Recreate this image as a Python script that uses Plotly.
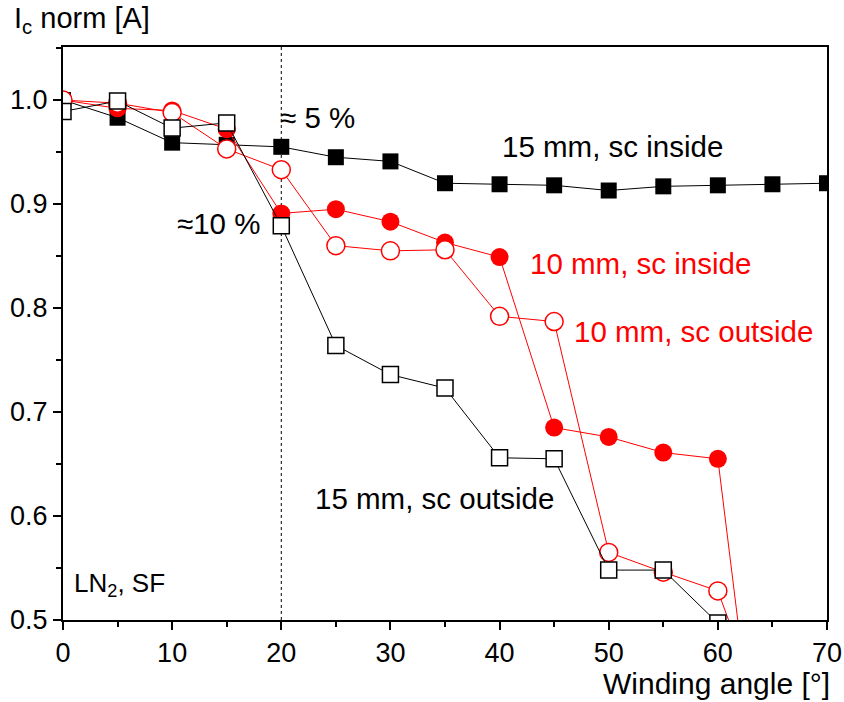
import plotly.graph_objects as go

# Winding angle [deg]
angle = [0, 5, 10, 15, 20, 25, 30, 35, 40, 45, 50, 55, 60, 65, 70]

# Normalised critical current for the four sample configurations
ic_15_inside = [1.0, 0.983, 0.959, 0.957, 0.955, 0.945, 0.941, 0.920, 0.919, 0.918, 0.913, 0.917, 0.918, 0.919, 0.920]
angle_15_out = [0, 5, 10, 15, 20, 25, 30, 35, 40, 45, 50, 55, 60]
ic_15_outside = [0.989, 0.999, 0.973, 0.978, 0.879, 0.764, 0.736, 0.723, 0.656, 0.655, 0.548, 0.548, 0.497]
angle_10 = [0, 5, 10, 15, 20, 25, 30, 35, 40, 45, 50, 55, 60, 65]
ic_10_inside = [1.0, 0.992, 0.990, 0.972, 0.891, 0.895, 0.883, 0.863, 0.849, 0.685, 0.676, 0.661, 0.655, 0.23]
ic_10_outside = [1.0, 0.997, 0.988, 0.953, 0.933, 0.860, 0.855, 0.856, 0.792, 0.787, 0.565, 0.546, 0.528, 0.385]

FONT = "Arial, Liberation Sans, sans-serif"
RED = "#ff0000"

fig = go.Figure()

fig.add_trace(go.Scatter(
    x=angle, y=ic_15_inside, mode="lines+markers",
    line=dict(color="black", width=1),
    marker=dict(symbol="square", size=16, color="black"),
))
fig.add_trace(go.Scatter(
    x=angle_10, y=ic_10_inside, mode="lines+markers",
    line=dict(color=RED, width=1),
    marker=dict(symbol="circle", size=18, color=RED),
))
fig.add_trace(go.Scatter(
    x=angle_10, y=ic_10_outside, mode="lines+markers",
    line=dict(color=RED, width=1),
    marker=dict(symbol="circle", size=18, color="white", line=dict(color=RED, width=1.5)),
))
fig.add_trace(go.Scatter(
    x=angle_15_out, y=ic_15_outside, mode="lines+markers",
    line=dict(color="black", width=1),
    marker=dict(symbol="square", size=16, color="white", line=dict(color="black", width=1.5)),
))

# dotted guide at 20 deg
fig.add_shape(type="line", xref="x", yref="paper", x0=20, x1=20, y0=0, y1=1,
              line=dict(color="black", width=1, dash="dot"), layer="below")

def note(text, x, y, color="black", anchor="left", size=29.5):
    fig.add_annotation(text=text, x=x, y=y, xref="x", yref="y",
                       showarrow=False, xanchor=anchor, yanchor="middle",
                       font=dict(family=FONT, size=size, color=color))

note("≈ 5 %", 19.7, 0.983)
note("≈10 %", 18.2, 0.881, anchor="right")
note("15 mm, sc inside", 40.0, 0.955)
note("10 mm, sc inside", 42.6, 0.843, color=RED)
note("10 mm, sc outside", 46.6, 0.777, color=RED)
note("15 mm, sc outside", 22.9, 0.617)
note("LN<sub>2</sub>, SF", 0.8, 0.534, size=26)

fig.add_annotation(text="I<sub>c</sub> norm [A]", x=-0.067, y=1.047, xref="paper", yref="paper",
                   showarrow=False, xanchor="left", yanchor="middle",
                   font=dict(family=FONT, size=29, color="black"))
fig.add_annotation(text="Winding angle [°]", x=1.006, y=-0.11, xref="paper", yref="paper",
                   showarrow=False, xanchor="right", yanchor="middle",
                   font=dict(family=FONT, size=30, color="black"))

axis_common = dict(
    showline=True, linecolor="black", linewidth=2, mirror=True,
    showgrid=False, zeroline=False, automargin=False,
    ticks="outside", ticklen=8, tickwidth=2, tickcolor="black",
    tickfont=dict(family=FONT, size=27, color="black"),
)
fig.update_xaxes(range=[0, 70], tickmode="linear", tick0=0, dtick=10,
                 minor=dict(ticks="outside", ticklen=5, tickwidth=2, dtick=5, tickcolor="black"),
                 **axis_common)
fig.update_yaxes(range=[0.5, 1.051], tickmode="linear", tick0=0.5, dtick=0.1, tickformat=".1f",
                 minor=dict(ticks="outside", ticklen=5, tickwidth=2, dtick=0.05, tickcolor="black"),
                 **axis_common)

fig.update_layout(
    width=844, height=702, showlegend=False,
    margin=dict(l=63, r=17, t=47, b=82, autoexpand=False),
    plot_bgcolor="white", paper_bgcolor="white",
)

fig.write_html("out.html")
